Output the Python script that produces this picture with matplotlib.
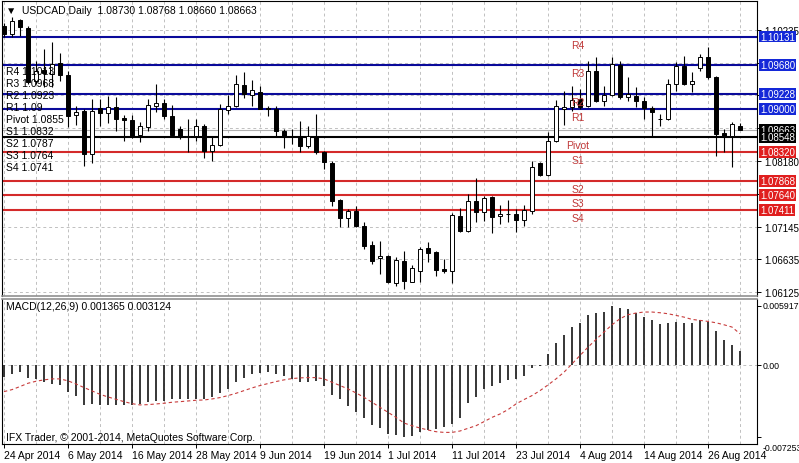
import numpy as np
import matplotlib
matplotlib.use('Agg')
import matplotlib.pyplot as plt
from matplotlib.transforms import ScaledTranslation

plt.rcParams['font.family'] = ['Liberation Sans', 'DejaVu Sans']
plt.rcParams['font.size'] = 7

# daily USDCAD bars, 24 Apr 2014 .. 1 Sep 2014
opens = [1.10300, 1.10170, 1.10390, 1.10260, 1.09438, 1.09606, 1.09543, 1.09716, 1.09535, 1.08900,
         1.08968, 1.08289, 1.09006, 1.08927, 1.09026, 1.08853, 1.08822, 1.08587, 1.08708, 1.09037,
         1.09089, 1.08889, 1.08681, 1.08563, 1.08567, 1.08733, 1.08336, 1.08438, 1.08984, 1.09046,
         1.09371, 1.09214, 1.09261, 1.09018, 1.09002, 1.08654, 1.08556, 1.08551, 1.08410, 1.08576,
         1.08316, 1.08148, 1.07573, 1.07281, 1.07400, 1.07165, 1.06863, 1.06654, 1.06685, 1.06259,
         1.06616, 1.06287, 1.06460, 1.06811, 1.06757, 1.06482, 1.06452, 1.07322, 1.07087, 1.07557,
         1.07385, 1.07610, 1.07322, 1.07350, 1.07348, 1.07259, 1.07400, 1.08143, 1.07960, 1.08498,
         1.08995, 1.09021, 1.09151, 1.09037, 1.09595, 1.09125, 1.09214, 1.09677, 1.09178, 1.09203,
         1.09125, 1.09006, 1.08838, 1.08838, 1.09387, 1.09673, 1.09387, 1.09633, 1.09810, 1.09492,
         1.08626, 1.08576, 1.08730]
highs = [1.10343, 1.10432, 1.10405, 1.10296, 1.09752, 1.09935, 1.10040, 1.09880, 1.09595, 1.09042,
         1.08995, 1.09151, 1.09151, 1.09203, 1.09183, 1.08900, 1.08900, 1.08795, 1.09151, 1.09387,
         1.09151, 1.09057, 1.08723, 1.08838, 1.08838, 1.08759, 1.08571, 1.09073, 1.09214, 1.09528,
         1.09575, 1.09449, 1.09355, 1.09046, 1.09042, 1.08681, 1.08681, 1.08811, 1.08733, 1.08916,
         1.08341, 1.08184, 1.07584, 1.07427, 1.07479, 1.07218, 1.06930, 1.06930, 1.06706, 1.06670,
         1.06773, 1.06549, 1.06826, 1.06917, 1.06773, 1.06643, 1.07364, 1.07438, 1.07662, 1.07908,
         1.07635, 1.07635, 1.07490, 1.07573, 1.07427, 1.07490, 1.08184, 1.08159, 1.08629, 1.09140,
         1.09277, 1.09355, 1.09308, 1.09752, 1.09810, 1.09350, 1.09805, 1.09752, 1.09492, 1.09335,
         1.09178, 1.09046, 1.08916, 1.09465, 1.09727, 1.09830, 1.09570, 1.09857, 1.09959, 1.09517,
         1.08681, 1.08786, 1.08768]
lows = [1.10123, 1.10119, 1.10147, 1.09387, 1.09387, 1.09339, 1.09347, 1.09441, 1.08708, 1.08744,
        1.08106, 1.08148, 1.08728, 1.08775, 1.08654, 1.08498, 1.08540, 1.08477, 1.08654, 1.08948,
        1.08838, 1.08551, 1.08524, 1.08316, 1.08498, 1.08226, 1.08184, 1.08419, 1.08916, 1.09021,
        1.09167, 1.09046, 1.08987, 1.08889, 1.08576, 1.08378, 1.08446, 1.08316, 1.08378, 1.08289,
        1.08054, 1.07479, 1.07140, 1.07140, 1.07140, 1.06800, 1.06572, 1.06408, 1.06274, 1.06224,
        1.06173, 1.06278, 1.06282, 1.06591, 1.06381, 1.06416, 1.06259, 1.07066, 1.07066, 1.07223,
        1.07243, 1.07051, 1.07192, 1.07218, 1.07071, 1.07156, 1.07348, 1.07944, 1.07939, 1.08473,
        1.08744, 1.08968, 1.08995, 1.09021, 1.09100, 1.09046, 1.09198, 1.09151, 1.09125, 1.09021,
        1.08838, 1.08563, 1.08733, 1.08827, 1.09281, 1.09371, 1.09256, 1.09595, 1.09465, 1.08262,
        1.08316, 1.08081, 1.08660]
closes = [1.10170, 1.10379, 1.10275, 1.09413, 1.09590, 1.09559, 1.09700, 1.09528, 1.08889, 1.08952,
          1.08289, 1.08968, 1.08932, 1.09021, 1.08838, 1.08822, 1.08576, 1.08733, 1.09053, 1.09089,
          1.08885, 1.08582, 1.08551, 1.08579, 1.08733, 1.08341, 1.08430, 1.08995, 1.09046, 1.09387,
          1.09230, 1.09285, 1.09002, 1.08995, 1.08654, 1.08551, 1.08548, 1.08410, 1.08576, 1.08316,
          1.08159, 1.07557, 1.07281, 1.07400, 1.07165, 1.06842, 1.06616, 1.06685, 1.06282, 1.06627,
          1.06303, 1.06497, 1.06800, 1.06737, 1.06475, 1.06455, 1.07333, 1.07087, 1.07557, 1.07385,
          1.07604, 1.07297, 1.07345, 1.07345, 1.07259, 1.07416, 1.08093, 1.07960, 1.08498, 1.09037,
          1.09021, 1.09140, 1.09021, 1.09595, 1.09125, 1.09214, 1.09700, 1.09178, 1.09230, 1.09125,
          1.09006, 1.08948, 1.08833, 1.09387, 1.09673, 1.09387, 1.09438, 1.09810, 1.09492, 1.08603,
          1.08567, 1.08759, 1.08663]

macd_hist = [-0.00124, -0.00091, -0.00074, -0.00134, -0.00141, -0.00168, -0.00192, -0.00202, -0.00276, -0.00316,
             -0.00403, -0.00393, -0.00403, -0.00403, -0.00403, -0.00403, -0.00403, -0.00393, -0.00376, -0.00360,
             -0.00360, -0.00343, -0.00343, -0.00343, -0.00343, -0.00343, -0.00326, -0.00282, -0.00242, -0.00168,
             -0.00134, -0.00091, -0.00081, -0.00067, -0.00091, -0.00114, -0.00141, -0.00168, -0.00168, -0.00158,
             -0.00208, -0.00302, -0.00343, -0.00417, -0.00470, -0.00538, -0.00601, -0.00638, -0.00696, -0.00706,
             -0.007253, -0.00719, -0.00679, -0.00652, -0.00645, -0.00628, -0.00595, -0.00531, -0.00380, -0.00319,
             -0.00245, -0.00212, -0.00178, -0.00151, -0.00138, -0.00111, -0.00027, -0.00013, 0.00108, 0.00218,
             0.00302, 0.00383, 0.00423, 0.00504, 0.00524, 0.00531, 0.005917, 0.00571, 0.00558, 0.00524,
             0.00484, 0.00447, 0.00413, 0.00420, 0.00430, 0.00423, 0.00417, 0.00450, 0.00430, 0.00336,
             0.00249, 0.00202, 0.001365]
macd_signal = [-0.00269, -0.00249, -0.00218, -0.00185, -0.00165, -0.00151, -0.00141, -0.00141, -0.00161, -0.00192,
               -0.00228, -0.00262, -0.00296, -0.00323, -0.00346, -0.00370, -0.00390, -0.00403, -0.00400, -0.00393,
               -0.00386, -0.00376, -0.00370, -0.00363, -0.00356, -0.00353, -0.00343, -0.00329, -0.00309, -0.00286,
               -0.00259, -0.00232, -0.00208, -0.00188, -0.00168, -0.00151, -0.00138, -0.00131, -0.00128, -0.00128,
               -0.00141, -0.00175, -0.00208, -0.00242, -0.00282, -0.00326, -0.00376, -0.00427, -0.00477, -0.00528,
               -0.00585, -0.00612, -0.00635, -0.00655, -0.00672, -0.00679, -0.00679, -0.00665, -0.00638, -0.00612,
               -0.00571, -0.00528, -0.00494, -0.00450, -0.00393, -0.00349, -0.00309, -0.00259, -0.00202, -0.00141,
               -0.00074, 0.00010, 0.00094, 0.00178, 0.00255, 0.00329, 0.00403, 0.00464, 0.00504, 0.00521,
               0.00531, 0.00531, 0.00524, 0.00514, 0.00497, 0.00480, 0.00457, 0.00447, 0.00437, 0.00423,
               0.00403, 0.00380, 0.003124]

date_labels = ['24 Apr 2014', '6 May 2014', '16 May 2014', '28 May 2014', '9 Jun 2014', '19 Jun 2014',
               '1 Jul 2014', '11 Jul 2014', '23 Jul 2014', '4 Aug 2014', '14 Aug 2014', '26 Aug 2014']

level_names = ['R4', 'R3', 'R2', 'R1', 'Pivot', 'S1', 'S2', 'S3', 'S4']
level_values = [1.10131, 1.09680, 1.09228, 1.09000, 1.08548, 1.08320, 1.07868, 1.07640, 1.07411]
level_short = ['1.1013', '1.0968', '1.0923', '1.09', '1.0855', '1.0832', '1.0787', '1.0764', '1.0741']
level_colors = ['#0a0a9a'] * 4 + ['black'] + ['#d42a2a'] * 4
box_colors = ['#1428d8'] * 4 + ['black'] + ['#e01e1e'] * 4
bid = 1.08663

price_ticks = ['1.06125', '1.06635', '1.07145', '', '1.08180', '', '', '', '1.10235']

n = len(opens)
x = np.arange(n)
W, H = 799, 464

fig = plt.figure(figsize=(W / 100, H / 100), dpi=100)
ax = fig.add_axes([2 / W, (H - 297) / H, 755 / W, 295 / H])
ax2 = fig.add_axes([2 / W, (H - 445) / H, 755 / W, 145 / H], sharex=ax)

xmin, xmax = -0.25, 94.125
grid_kw = dict(color='#c0c0c0', linestyle=(0, (3, 3)), linewidth=0.7, zorder=0)

# ---- price panel
ax.set_xlim(xmin, xmax)
ax.set_ylim(1.06063, 1.10688)
pt = np.linspace(1.06125, 1.10235, 9)
for v in pt:
    ax.axhline(v, **grid_kw)
for i in range(0, n, 4):
    ax.axvline(i, **grid_kw)
    ax2.axvline(i, **grid_kw)

ax.axhline(bid, color='#b0b0b0', linewidth=0.8, zorder=1)
for v, c in zip(level_values, level_colors):
    ax.axhline(v, color=c, linewidth=1.5, zorder=1)

for i in range(n):
    o, h, l, c = opens[i], highs[i], lows[i], closes[i]
    ax.vlines(i, l, h, color='black', linewidth=0.8, zorder=3)
    fc = 'white' if c > o else 'black'
    ax.bar(i, max(abs(c - o), 0.00001), bottom=min(o, c), width=0.6,
           facecolor=fc, edgecolor='black', linewidth=0.7, zorder=4)

for name, v in zip(level_names, level_values):
    ax.annotate(name, xy=(71.75, v), xytext=(0, -8), textcoords='offset pixels',
                ha='center', va='center', color='#c03838', fontsize=7.5, zorder=5)

for k, (name, s) in enumerate(zip(level_names, level_short)):
    ax.annotate(name + ' ' + s, xy=(0, 1), xycoords='axes fraction',
                xytext=(4, -(70 + 12 * k)), textcoords='offset pixels',
                ha='left', va='center', color='black', fontsize=7.5, zorder=6)

ax.annotate('\u25bc  USDCAD,Daily  1.08730 1.08768 1.08660 1.08663', xy=(0, 1),
            xycoords='axes fraction', xytext=(4, -9), textcoords='offset pixels',
            ha='left', va='center', fontsize=7.5, zorder=6)

ax.yaxis.tick_right()
ax.set_yticks(pt)
ax.set_yticklabels(price_ticks)
ax.tick_params(axis='y', length=3, width=0.7, pad=2, labelsize=7)
ax.tick_params(axis='x', bottom=False, labelbottom=False)

ytr = ax.get_yaxis_transform()
box_kw = dict(transform=ytr, ha='left', va='center', fontsize=7, color='white', clip_on=False)
ax.text(1.0045, bid, '%.5f' % bid, zorder=7,
        bbox=dict(boxstyle='square,pad=0.1', fc='black', ec='none'), **box_kw)
for v, bc in zip(level_values, box_colors):
    ax.text(1.0045, v, '%.5f' % v, zorder=8,
            bbox=dict(boxstyle='square,pad=0.1', fc=bc, ec='none'), **box_kw)

for sp in ['left', 'right', 'top']:
    ax.spines[sp].set_color('black')
    ax.spines[sp].set_linewidth(0.8)
ax.spines['bottom'].set_color('#909090')
ax.spines['bottom'].set_linewidth(1.2)

# ---- MACD panel
ax2.set_ylim(-0.007957, 0.006621)
ax2.axhline(0, **grid_kw)
ax2.vlines(x, 0, macd_hist, color='#262626', linewidth=1.3, zorder=3)
ax2.plot(x, macd_signal, color='#c83c3c', linewidth=0.8, linestyle=(0, (3, 2.5)), zorder=4)

ax2.yaxis.tick_right()
ax2.set_yticks([0.005917, 0.0, -0.007253])
ax2.set_yticklabels(['0.005917', '0.00', '-0.007253'])
ax2.tick_params(axis='y', length=3, width=0.7, pad=1, labelsize=6.3)
lbls = ax2.get_yticklabels()
lbls[0].set_transform(lbls[0].get_transform() + ScaledTranslation(0, 0.02, fig.dpi_scale_trans))
lbls[2].set_transform(lbls[2].get_transform() + ScaledTranslation(0, -0.10, fig.dpi_scale_trans))

ax2.set_xticks(np.arange(0, n, 8))
ax2.set_xticklabels(date_labels, ha='left')
ax2.tick_params(axis='x', length=3, width=0.7, pad=1, labelsize=7.5)

ax2.annotate('MACD(12,26,9) 0.001365 0.003124', xy=(0, 1), xycoords='axes fraction',
             xytext=(4, -7), textcoords='offset pixels', ha='left', va='center', fontsize=7.5)
ax2.annotate('IFX Trader, \u00a9 2001-2014, MetaQuotes Software Corp.', xy=(0, 0),
             xycoords='axes fraction', xytext=(4, 7), textcoords='offset pixels',
             ha='left', va='center', fontsize=7.5)

for sp in ['left', 'right', 'bottom']:
    ax2.spines[sp].set_color('black')
    ax2.spines[sp].set_linewidth(0.8)
ax2.spines['top'].set_color('#909090')
ax2.spines['top'].set_linewidth(1.2)

fig.savefig('out.png', dpi=100, facecolor='white')
